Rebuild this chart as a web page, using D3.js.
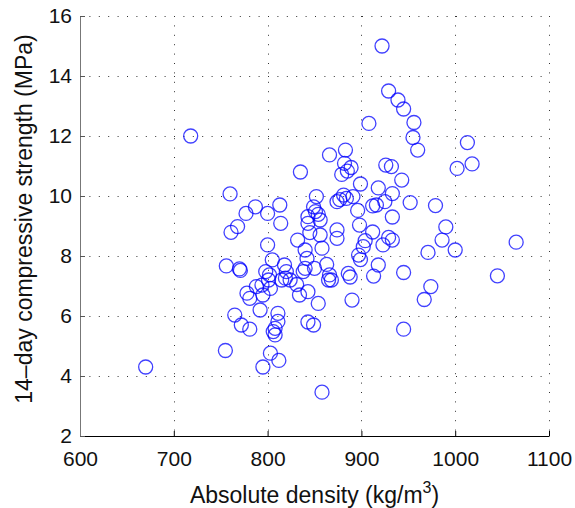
<!DOCTYPE html>
<html>
<head>
<meta charset="utf-8">
<script src="https://cdn.jsdelivr.net/npm/d3@7"></script>
<style>
  body { margin: 0; background: #fff; }
  svg { font-family: "Liberation Sans", Arial, sans-serif; }
</style>
</head>
<body>
<script>
// 14-day compressive strength vs absolute density scatter

const density = [670, 718, 922, 929, 939, 945, 956, 955, 960, 908,
  1013, 1018, 1002, 866, 883, 882, 889, 885, 879, 835,
  760, 926, 932, 943, 899, 918, 933, 925, 912, 916,
  952, 979, 852, 881, 877, 891, 874, 884, 896, 933,
  898, 912, 929, 933, 923, 904, 902, 897, 899, 918,
  886, 888, 913, 945, 971, 986, 990, 1000, 1065, 1045,
  974, 967, 945, 890, 858, 787, 777, 800, 813, 814,
  768, 761, 800, 849, 851, 854, 856, 843, 843, 845,
  856, 832, 840, 858, 842, 874, 874, 756, 770, 771,
  805, 818, 798, 802, 840, 850, 863, 866, 778, 781,
  765, 772, 781, 792, 788, 795, 803, 794, 801, 811,
  811, 806, 808, 808, 755, 803, 812, 795, 815, 819,
  824, 820, 831, 834, 843, 854, 843, 849, 838, 868, 865];

const strength = [4.3, 12.0, 15.0, 13.5, 13.2, 12.9, 12.45, 11.95, 11.53, 12.42,
  11.78, 11.07, 10.92, 11.37, 11.53, 11.09, 10.95, 10.83, 10.72, 10.8,
  10.07, 11.03, 10.98, 10.53, 10.4, 10.27, 10.08, 9.81, 9.67, 9.7,
  9.78, 9.68, 9.98, 10.03, 9.88, 9.98, 9.81, 9.92, 9.52, 9.3,
  9.03, 8.8, 8.62, 8.53, 8.37, 8.51, 8.31, 8.03, 7.88, 7.7,
  7.42, 7.3, 7.33, 7.45, 8.12, 8.53, 8.97, 8.2, 8.46, 7.34,
  6.98, 6.55, 5.56, 6.53, 3.46, 9.64, 9.42, 9.42, 9.7, 9.09,
  8.98, 8.79, 8.37, 9.64, 9.48, 9.39, 9.2, 9.31, 9.09, 8.78,
  8.7, 8.53, 8.2, 8.26, 7.92, 8.87, 8.59, 7.67, 7.57, 7.52,
  7.87, 7.7, 7.48, 7.37, 7.59, 7.59, 7.72, 7.37, 6.76, 6.59,
  6.03, 5.7, 5.56, 6.2, 6.98, 6.7, 6.92, 7.03, 7.2, 6.09,
  5.82, 5.48, 5.37, 5.59, 4.85, 4.76, 4.52, 4.3, 7.2, 7.26,
  7.2, 7.48, 7.05, 6.7, 6.81, 6.42, 5.8, 5.7, 7.48, 7.2, 7.2];

const xTicks = [600, 700, 800, 900, 1000, 1100];
const yTicks = [2, 4, 6, 8, 10, 12, 14, 16];

const width = 575, height = 508;
const margin = {top: 16, right: 26, bottom: 72, left: 80};

const svg = d3.select("body").append("svg")
    .attr("width", width)
    .attr("height", height);

const x = d3.scaleLinear()
    .domain([600, 1100])
    .range([margin.left, width - margin.right]);

const y = d3.scaleLinear()
    .domain([2, 16])
    .range([height - margin.bottom, margin.top]);

// dotted grid
const grid = svg.append("g").attr("class", "grid");
grid.selectAll(".vgrid")
    .data(xTicks.slice(1))
    .enter().append("line")
    .attr("x1", d => Math.round(x(d)) + 0.5)
    .attr("x2", d => Math.round(x(d)) + 0.5)
    .attr("y1", y(16))
    .attr("y2", y(2))
    .attr("stroke", "#333")
    .attr("stroke-width", 1)
    .attr("stroke-dasharray", "1,8.4");
grid.selectAll(".hgrid")
    .data(yTicks.slice(1))
    .enter().append("line")
    .attr("y1", d => Math.round(y(d)) + 0.5)
    .attr("y2", d => Math.round(y(d)) + 0.5)
    .attr("x1", x(600))
    .attr("x2", x(1100))
    .attr("stroke", "#333")
    .attr("stroke-width", 1)
    .attr("stroke-dasharray", "1,8.4");

// axes with inward ticks
svg.append("g")
    .attr("transform", "translate(0," + y(2) + ")")
    .style("font-size", "21px")
    .call(d3.axisBottom(x).tickValues(xTicks).tickFormat(d3.format("d"))
        .tickSizeInner(-5).tickSizeOuter(0).tickPadding(15))
    .call(g => g.selectAll("text").attr("fill", "#111").style("font-family", "'Liberation Sans', Arial, sans-serif"));

svg.append("g")
    .attr("transform", "translate(" + x(600) + ",0)")
    .style("font-size", "21px")
    .call(d3.axisLeft(y).tickValues(yTicks).tickFormat(d3.format("d"))
        .tickSizeInner(-5).tickSizeOuter(0).tickPadding(8))
    .call(g => g.select(".domain").attr("stroke", "#777"))
    .call(g => g.selectAll(".tick line").attr("stroke", "#555"))
    .call(g => g.selectAll("text").attr("fill", "#111").style("font-family", "'Liberation Sans', Arial, sans-serif"));

// points
svg.append("g").selectAll("circle")
    .data(density.map((d, i) => ({d: d, s: strength[i]})))
    .enter().append("circle")
    .attr("cx", p => x(p.d))
    .attr("cy", p => y(p.s))
    .attr("r", 7)
    .attr("fill", "none")
    .attr("stroke", "#0000ff")
    .attr("stroke-opacity", 0.75)
    .attr("stroke-width", 1.3);

// axis titles
const xTitle = svg.append("text")
    .attr("x", (x(600) + x(1100)) / 2)
    .attr("y", 503)
    .attr("text-anchor", "middle")
    .style("font-size", "23px")
    .attr("fill", "#111")
    .text("Absolute density (kg/m");
xTitle.append("tspan").attr("dy", -10).style("font-size", "16px").text("3");
xTitle.append("tspan").attr("dy", 10).text(")");

svg.append("text")
    .attr("transform", "translate(32,219) rotate(-90)")
    .attr("text-anchor", "middle")
    .style("font-size", "23px")
    .attr("fill", "#111")
    .text("14\u2013day compressive strength (MPa)");
</script>
</body>
</html>
